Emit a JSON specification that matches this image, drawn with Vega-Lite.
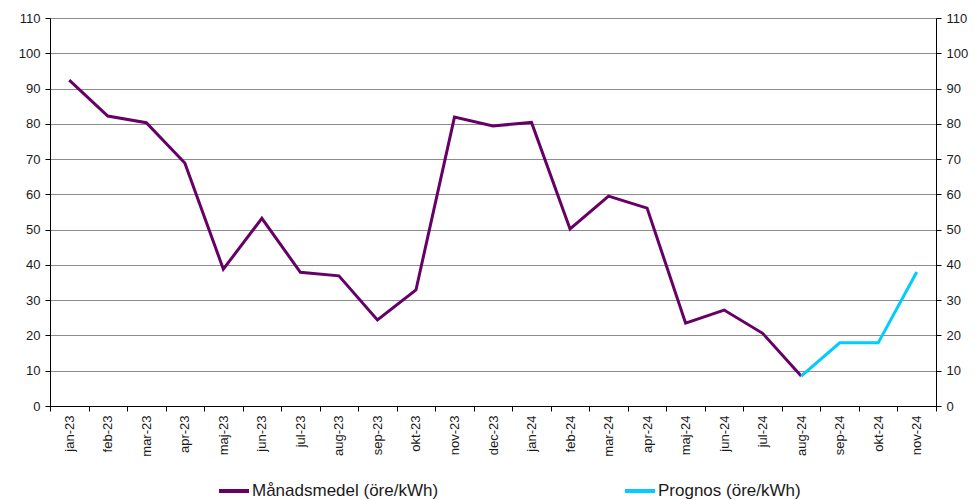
{
  "$schema": "https://vega.github.io/schema/vega-lite/v6.json",
  "width": 886,
  "height": 388,
  "autosize": "none",
  "padding": {"left": 50, "top": 18, "right": 39, "bottom": 94},
  "background": "white",
  "config": {
    "view": {"stroke": null},
    "font": "Liberation Sans",
    "axis": {"labelFont": "Liberation Sans", "labelColor": "#1a1a1a", "domainColor": "black", "tickColor": "black", "titleFont": "Liberation Sans"}
  },
  "data": {
    "values": [
      {"month": "jan-23", "series": "Månadsmedel (öre/kWh)", "value": 92.4},
      {"month": "feb-23", "series": "Månadsmedel (öre/kWh)", "value": 82.2},
      {"month": "mar-23", "series": "Månadsmedel (öre/kWh)", "value": 80.3},
      {"month": "apr-23", "series": "Månadsmedel (öre/kWh)", "value": 68.9},
      {"month": "maj-23", "series": "Månadsmedel (öre/kWh)", "value": 38.8},
      {"month": "jun-23", "series": "Månadsmedel (öre/kWh)", "value": 53.2},
      {"month": "jul-23", "series": "Månadsmedel (öre/kWh)", "value": 37.9},
      {"month": "aug-23", "series": "Månadsmedel (öre/kWh)", "value": 36.9},
      {"month": "sep-23", "series": "Månadsmedel (öre/kWh)", "value": 24.4},
      {"month": "okt-23", "series": "Månadsmedel (öre/kWh)", "value": 32.9},
      {"month": "nov-23", "series": "Månadsmedel (öre/kWh)", "value": 81.9},
      {"month": "dec-23", "series": "Månadsmedel (öre/kWh)", "value": 79.4},
      {"month": "jan-24", "series": "Månadsmedel (öre/kWh)", "value": 80.4},
      {"month": "feb-24", "series": "Månadsmedel (öre/kWh)", "value": 50.2},
      {"month": "mar-24", "series": "Månadsmedel (öre/kWh)", "value": 59.5},
      {"month": "apr-24", "series": "Månadsmedel (öre/kWh)", "value": 56.1},
      {"month": "maj-24", "series": "Månadsmedel (öre/kWh)", "value": 23.5},
      {"month": "jun-24", "series": "Månadsmedel (öre/kWh)", "value": 27.2},
      {"month": "jul-24", "series": "Månadsmedel (öre/kWh)", "value": 20.6},
      {"month": "aug-24", "series": "Månadsmedel (öre/kWh)", "value": 8.5},
      {"month": "aug-24", "series": "Prognos (öre/kWh)", "value": 8.5},
      {"month": "sep-24", "series": "Prognos (öre/kWh)", "value": 17.9},
      {"month": "okt-24", "series": "Prognos (öre/kWh)", "value": 17.9},
      {"month": "nov-24", "series": "Prognos (öre/kWh)", "value": 38.0}
    ]
  },
  "encoding": {
    "x": {
      "field": "month",
      "type": "ordinal",
      "sort": null,
      "scale": {"paddingInner": 0, "paddingOuter": 0},
      "axis": {
        "title": null,
        "labelAngle": -90,
        "labelFontSize": 13,
        "labelPadding": 4,
        "tickBand": "extent",
        "tickSize": 5,
        "domainColor": "black"
      }
    }
  },
  "layer": [
    {
      "mark": {"type": "line", "strokeWidth": 3, "strokeJoin": "miter"},
      "encoding": {
        "y": {
          "field": "value",
          "type": "quantitative",
          "scale": {"domain": [0, 110], "nice": false},
          "axis": {
            "title": null,
            "values": [0, 10, 20, 30, 40, 50, 60, 70, 80, 90, 100, 110],
            "labelFontSize": 13,
            "labelPadding": 5,
            "tickSize": 5,
            "grid": true,
            "gridColor": "#8c8c8c",
            "gridWidth": 1
          }
        },
        "color": {
          "field": "series",
          "type": "nominal",
          "scale": {"domain": ["Månadsmedel (öre/kWh)", "Prognos (öre/kWh)"], "range": ["#660066", "#00ccff"]},
          "legend": {
            "title": null,
            "orient": "none",
            "legendX": 167,
            "legendY": 456,
            "direction": "horizontal",
            "symbolType": "stroke",
            "symbolStrokeWidth": 4,
            "symbolSize": 900,
            "labelFontSize": 17,
            "labelColor": "#1a1a1a",
            "labelOffset": 1,
            "columnPadding": 178,
            "labelLimit": 300
          }
        }
      }
    },
    {
      "mark": {"type": "line", "opacity": 0},
      "encoding": {
        "y": {
          "field": "value",
          "type": "quantitative",
          "scale": {"domain": [0, 110], "nice": false},
          "axis": {
            "title": null,
            "orient": "right",
            "values": [0, 10, 20, 30, 40, 50, 60, 70, 80, 90, 100, 110],
            "labelFontSize": 13,
            "labelPadding": 5,
            "tickSize": 5,
            "grid": false
          }
        },
        "detail": {"field": "series"}
      }
    }
  ],
  "resolve": {"scale": {"y": "independent"}}
}
